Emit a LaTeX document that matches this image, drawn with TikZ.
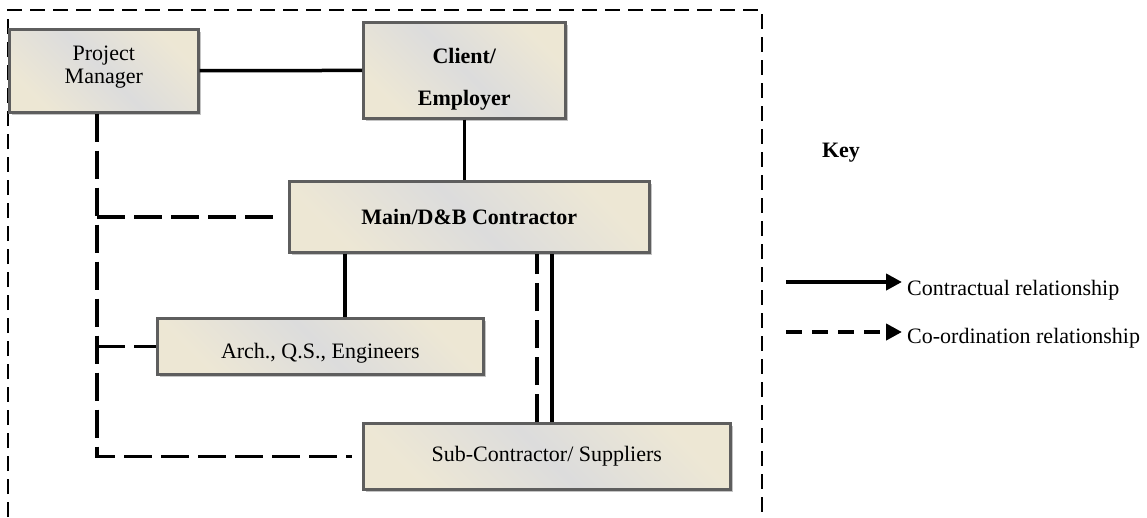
\documentclass[tikz,border=0pt]{standalone}
\usepackage{fontspec}
\setmainfont{Liberation Serif}
\usetikzlibrary{arrows.meta,shadows}
\definecolor{boxgray}{HTML}{DCDCDC}
\definecolor{boxcream}{HTML}{F3EBD2}
\definecolor{boxedge}{HTML}{5E5E5E}
\definecolor{shadowgray}{HTML}{C4C4C4}
\begin{document}
\begin{tikzpicture}[x=1pt,y=-1pt,
  box/.style={draw=boxedge, line width=2.6pt, anchor=north west, inner sep=0pt,
    align=center, top color=boxcream!75!boxgray, bottom color=boxcream!75!boxgray, middle color=boxgray,
    shading angle=-45,
    drop shadow={shadow xshift=3pt, shadow yshift=-3pt, fill=shadowgray, opacity=1},
    font=\fontsize{22}{23}\selectfont},
  contract/.style={line width=3.5pt},
  coordrel/.style={line width=3.5pt, dash pattern=on 28pt off 9pt},
  frame/.style={line width=1.1pt, dash pattern=on 15pt off 8pt},
  keysolid/.style={line width=4pt, -{Triangle[length=16pt,width=16pt]}},
  keydash/.style={line width=4pt, dash pattern=on 16pt off 10pt, -{Triangle[length=16pt,width=16pt]}},
  keytext/.style={anchor=west, inner sep=0pt, font=\fontsize{22}{23}\selectfont}]
\useasboundingbox (0,0) rectangle (1147,517);
% outer dashed frame
\draw[frame] (8,517) -- (8,10) -- (762,10) -- (762,517);
% boxes
\node[box, minimum width=189pt, minimum height=83pt] (pm) at (8,28)
  {Project\\Manager\rule[-12pt]{0pt}{12pt}};
\node[box, minimum width=202pt, minimum height=96pt, font=\fontsize{22}{42}\selectfont\bfseries] (client) at (362,21)
  {\rule{0pt}{33pt}Client/\\Employer};
\node[box, minimum width=360pt, minimum height=71pt, font=\fontsize{22}{23}\selectfont\bfseries] (main) at (288,180)
  {Main/D\&B Contractor};
\node[box, minimum width=326pt, minimum height=56pt] (arch) at (156,317)
  {\rule{0pt}{29pt}Arch., Q.S., Engineers};
\node[box, minimum width=367pt, minimum height=66pt] (sub) at (362,422)
  {Sub-Contractor/ Suppliers};
% contractual links
\draw[contract] (pm) -- (client);
\draw[contract] (client.south) -- (client.south |- main.north);
\draw[contract] ([xshift=57pt]main.south west) -- ([xshift=57pt]main.south west |- arch.north);
\draw[contract] ([xshift=190pt]sub.north west) -- ([xshift=190pt]sub.north west |- main.south);
% co-ordination links
\draw[coordrel] ([xshift=175pt]sub.north west) -- ([xshift=175pt]sub.north west |- main.south);
\coordinate (bus) at ([xshift=89pt]pm.south west);
\draw[coordrel] (bus) |- ([xshift=-10pt]sub.west);
\draw[coordrel] (bus |- main.west) -- ([xshift=-8pt]main.west);
\draw[coordrel] (bus |- arch.west) -- (arch.west);
% key
\node[font=\fontsize{22}{23}\selectfont\bfseries, inner sep=0pt] (key) at (841,153) {Key};
\coordinate (ka) at (786,282);
\coordinate (kb) at (902,282);
\draw[keysolid] (ka) -- (kb);
\node[keytext] (kt1) at (907,290) {Contractual relationship};
\coordinate (kc) at (786,332);
\coordinate (kd) at (902,332);
\draw[keydash] (kc) -- (kd);
\node[keytext] (kt2) at (907,338) {Co-ordination relationship};
\end{tikzpicture}
\end{document}
